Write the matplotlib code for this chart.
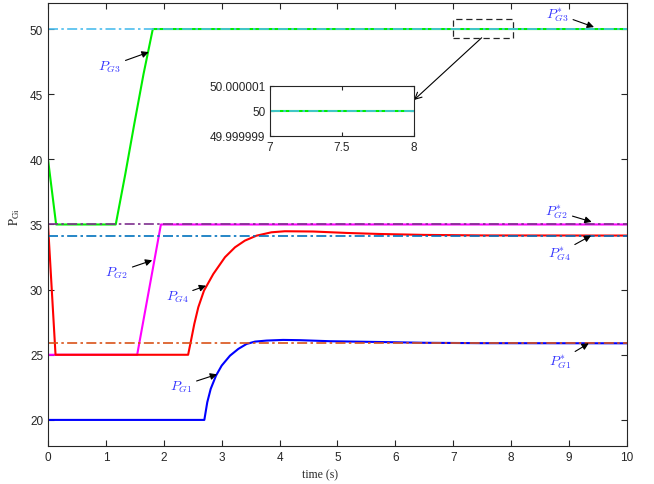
import matplotlib
matplotlib.use("Agg")
import matplotlib.pyplot as plt
from matplotlib.patches import Rectangle

# generator outputs
t_g1 = [0, 2.7, 2.751, 2.81, 2.902, 3.0, 3.143, 3.287, 3.43, 3.575, 3.776, 4.06, 4.35,
        4.87, 5.73, 6.5, 7.5, 10]
p_g1 = [20, 20, 21.36, 22.38, 23.4, 24.17, 24.93, 25.45, 25.83, 26.01, 26.09, 26.14, 26.12,
        26.04, 25.98, 25.92, 25.89, 25.88]

t_g2 = [0, 1.54, 1.95, 10]
p_g2 = [25, 25, 35, 35]

t_g3 = [0, 0.14, 1.17, 1.335, 1.49, 1.65, 1.81, 10]
p_g3 = [40, 35, 35, 38.87, 42.71, 46.55, 50, 50]

t_g4 = [0, 0.13, 2.42, 2.47, 2.527, 2.596, 2.694, 2.855, 3.057, 3.23, 3.40, 3.60, 3.86, 4.09,
        4.58, 5.16, 5.73, 6.5, 7.5, 10]
p_g4 = [35, 25, 25, 26.09, 27.37, 28.65, 29.92, 31.2, 32.49, 33.25, 33.76, 34.14, 34.4, 34.48,
        34.46, 34.35, 34.27, 34.2, 34.16, 34.15]

# optimal set points
ref_vals = [25.88, 35, 50, 34.15]
ref_colors = ["#D95319", "#7E2F8E", "#4DBEEE", "#0072BD"]

xticks = list(range(0, 11))
yticks = [20, 25, 30, 35, 40, 45, 50]

inset_t = [7, 8]
inset_p = [50, 50]
inset_yticks = [49.999999, 50, 50.000001]
inset_ylabels = ["49.999999", "50", "50.000001"]
inset_xticks = [7, 7.5, 8]
inset_xlabels = ["7", "7.5", "8"]

labels = [r"$P_{G1}$", r"$P_{G2}$", r"$P_{G3}$", r"$P_{G4}$",
          r"$P^{*}_{G1}$", r"$P^{*}_{G2}$", r"$P^{*}_{G3}$", r"$P^{*}_{G4}$"]
label_xy = [(2.3, 22.6), (1.19, 31.33), (1.07, 47.16), (2.23, 29.5),
            (8.84, 24.55), (8.79, 36.0), (8.8, 51.15), (8.83, 32.8)]
arrow_xy = [(2.92, 23.5), (1.8, 32.25), (1.74, 48.23), (2.73, 30.3),
            (9.34, 25.88), (9.39, 35.2), (9.43, 50.15), (9.38, 34.15)]

axc = "#262626"
fig = plt.figure(figsize=(6.54, 4.85), dpi=100)
ax = fig.add_axes([0.0734, 0.0784, 0.8853, 0.9134])

ax.plot(t_g3, p_g3, color="#00ee00", lw=1.5)
ax.plot(t_g2, p_g2, color="#ff00ff", lw=1.5)
ax.plot(t_g4, p_g4, color="#ff0000", lw=1.5)
ax.plot(t_g1, p_g1, color="#0000ff", lw=1.5)
for v, c in zip(ref_vals, ref_colors):
    ax.plot([0, 10], [v, v], color=c, lw=1.2, ls="-.", dashes=(6, 2, 1.5, 2))

ax.set_xlim(0, 10)
ax.set_ylim(18, 52)
ax.set_xticks(xticks)
ax.set_yticks(yticks)
ax.tick_params(direction="in", top=True, right=True, length=4, width=0.8,
               colors=axc, labelsize=8.5)
for lab in ax.get_xticklabels() + ax.get_yticklabels():
    lab.set_family("Liberation Sans")
for s in ax.spines.values():
    s.set_color(axc)
    s.set_linewidth(0.8)

ax.set_xlabel("time (s)", family="Liberation Serif", fontsize=8.5, color=axc)
ax.xaxis.set_label_coords(0.47, -0.05)
ax.set_ylabel(r"$\mathrm{P_{Gi}}$", fontsize=9, color=axc, math_fontfamily="stix")
ax.yaxis.set_label_coords(-0.045, 0.52)

for s, xy, txy in zip(labels, arrow_xy, label_xy):
    ax.annotate(s, xy=xy, xytext=txy, ha="center", va="center", color="#3333ff",
                fontsize=10, math_fontfamily="cm",
                arrowprops=dict(arrowstyle="-|>", color="black", lw=0.8,
                                mutation_scale=10, shrinkA=1, shrinkB=0))

# zoom box and pointer
ax.add_patch(Rectangle((7.0, 49.33), 1.03, 1.44, fill=False, ls=(0, (5, 3)), lw=0.9, ec=axc))
ax.annotate("", xy=(6.32, 44.55), xytext=(7.49, 49.33),
            arrowprops=dict(arrowstyle="->", color="black", lw=0.8, mutation_scale=12,
                            shrinkA=0, shrinkB=0))

ins = fig.add_axes([0.413, 0.718, 0.220, 0.103])
ins.plot(inset_t, inset_p, color="#00ee00", lw=1.5)
ins.plot(inset_t, inset_p, color="#4DBEEE", lw=1.2, ls="-.", dashes=(6, 2, 1.5, 2))
ins.set_xlim(7, 8)
ins.set_ylim(49.999999, 50.000001)
ins.set_yticks(inset_yticks)
ins.set_yticklabels(inset_ylabels)
ins.set_xticks(inset_xticks)
ins.set_xticklabels(inset_xlabels)
ins.tick_params(direction="in", top=True, right=True, length=3, width=0.8,
                colors=axc, labelsize=8.5)
for lab in ins.get_xticklabels() + ins.get_yticklabels():
    lab.set_family("Liberation Sans")
for s in ins.spines.values():
    s.set_color(axc)
    s.set_linewidth(0.8)

fig.savefig("out.png", dpi=100)
